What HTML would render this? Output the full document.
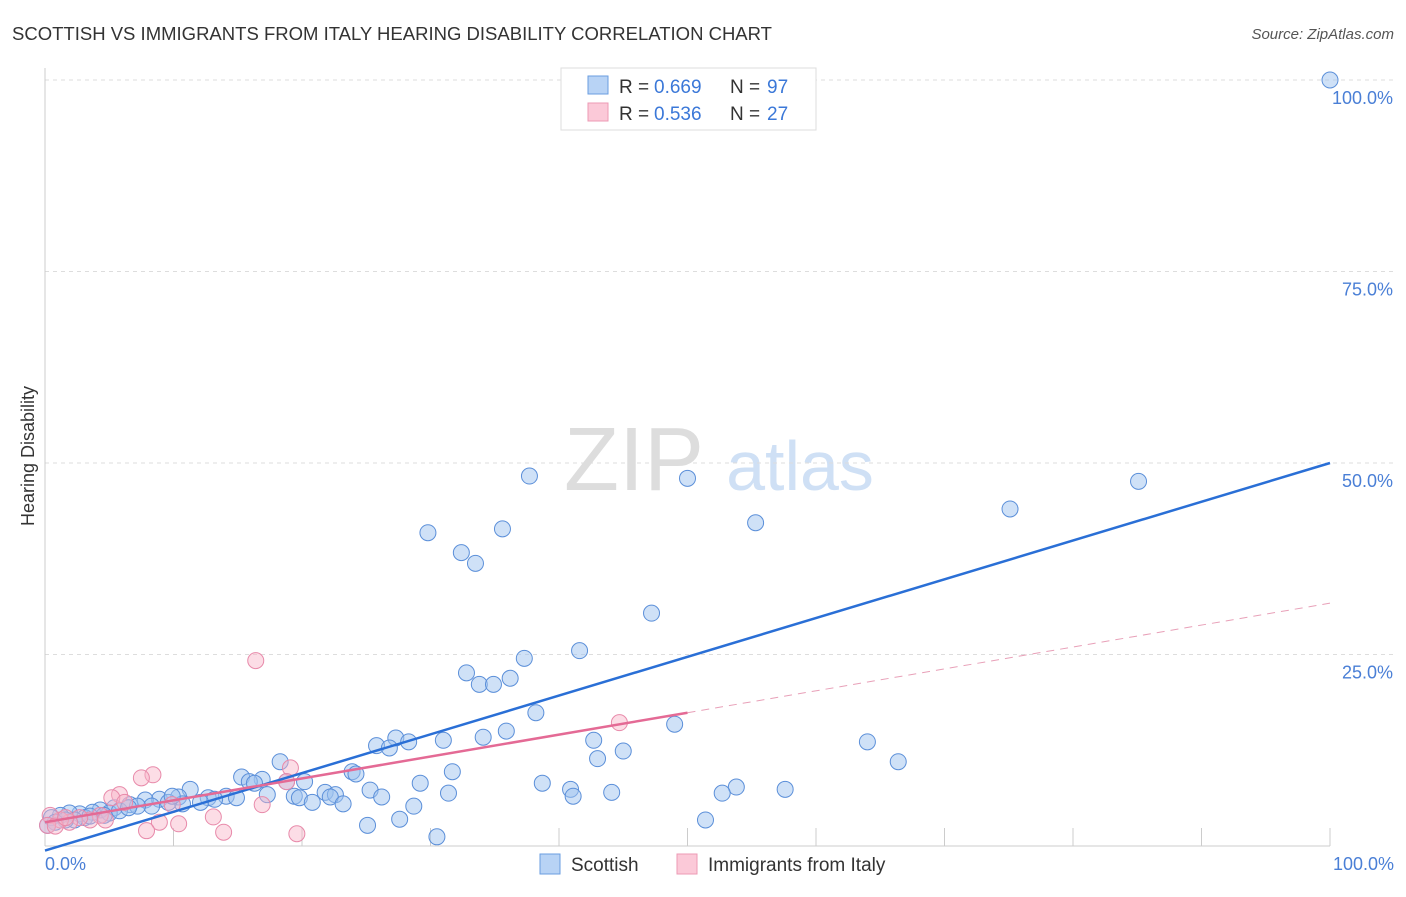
<!DOCTYPE html>
<html><head><meta charset="utf-8">
<style>
body{margin:0;background:#fff;font-family:"Liberation Sans",sans-serif;}
svg text{font-family:"Liberation Sans",sans-serif;}
</style></head>
<body>
<svg id="chart" width="1406" height="892" xmlns="http://www.w3.org/2000/svg">
<text x="12" y="40" font-size="18" fill="#333" textLength="760" lengthAdjust="spacingAndGlyphs">SCOTTISH VS IMMIGRANTS FROM ITALY HEARING DISABILITY CORRELATION CHART</text>
<text x="1394" y="39" font-size="15" fill="#555" text-anchor="end" font-style="italic">Source: ZipAtlas.com</text>
<text x="634" y="490" font-size="90" fill="#ddd" font-family="Liberation Serif" text-anchor="middle">ZIP</text>
<text x="800" y="490" font-size="70" fill="#cfe0f5" text-anchor="middle">atlas</text>
<g id="grid"></g>
<g id="axes"></g>
<g id="pts"></g>
<g id="lines"></g>
<text x="34" y="456" font-size="18" fill="#333" text-anchor="middle" transform="rotate(-90 34 456)">Hearing Disability</text>
<text x="45" y="870" font-size="18" fill="#4a7fd6">0.0%</text>
<text x="1394" y="870" font-size="18" fill="#4a7fd6" text-anchor="end">100.0%</text>
<g>
<rect x="561" y="68" width="255" height="62" fill="#fff" stroke="#ddd"/>
<rect x="588" y="76" width="20" height="18" fill="#b8d3f5" stroke="#6a9ee0"/>
<rect x="588" y="103" width="20" height="18" fill="#fbc9d8" stroke="#ec9ab4"/>
<text x="619" y="93" font-size="19" fill="#333">R = </text>
<text x="654" y="93" font-size="19" fill="#3b78d8">0.669</text>
<text x="730" y="93" font-size="19" fill="#333">N = </text>
<text x="767" y="93" font-size="19" fill="#3b78d8">97</text>
<text x="619" y="120" font-size="19" fill="#333">R = </text>
<text x="654" y="120" font-size="19" fill="#3b78d8">0.536</text>
<text x="730" y="120" font-size="19" fill="#333">N = </text>
<text x="767" y="120" font-size="19" fill="#3b78d8">27</text>
</g>
<g>
<rect x="540" y="854" width="20" height="20" fill="#b8d3f5" stroke="#6a9ee0"/>
<text x="571" y="871" font-size="19" fill="#333">Scottish</text>
<rect x="677" y="854" width="20" height="20" fill="#fbc9d8" stroke="#ec9ab4"/>
<text x="708" y="871" font-size="19" fill="#333">Immigrants from Italy</text>
</g>
</svg>
<script>
const yTicks=[25,50,75,100];
const yTickLabels=["25.0%","50.0%","75.0%","100.0%"];
const xTicks=[10,20,30,40,50,60,70,80,90,100];
const scotX=[100,37.7,50.0,85.1,75.1,55.3,29.8,35.6,32.4,33.5,47.2,41.6,37.3,32.8,36.2,33.8,34.9,38.2,49.0,35.9,34.1,31.0,27.3,28.3,25.8,26.8,42.7,64.0,45.0,43.0,66.4,18.3,31.7,23.9,24.2,15.3,16.9,15.9,16.3,29.2,38.7,20.2,18.8,11.3,53.8,57.6,40.9,25.3,44.1,52.7,31.4,21.8,22.6,17.3,14.1,19.4,19.8,26.2,41.1,22.2,14.9,12.7,13.2,10.4,8.9,7.8,20.8,23.2,12.1,10.7,9.6,6.6,28.7,8.3,7.2,5.4,4.3,3.7,2.7,1.9,1.2,0.5,27.6,51.4,25.1,30.5,5.0,3.1,2.3,1.6,0.8,0.2,5.8,4.6,3.5,6.5,9.9];
const scotY=[100,48.3,48.0,47.6,44.0,42.2,40.9,41.4,38.3,36.9,30.4,25.5,24.5,22.6,21.9,21.1,21.1,17.4,15.9,15.0,14.2,13.8,14.1,13.6,13.1,12.8,13.8,13.6,12.4,11.4,11.0,11.0,9.7,9.7,9.4,9.0,8.7,8.4,8.2,8.2,8.2,8.4,8.4,7.4,7.7,7.4,7.4,7.3,7.0,6.9,6.9,7.0,6.7,6.7,6.5,6.5,6.3,6.4,6.5,6.4,6.3,6.3,6.1,6.4,6.1,6.0,5.7,5.5,5.7,5.5,5.7,5.4,5.2,5.2,5.2,5.0,4.7,4.4,4.2,4.3,4.0,3.7,3.5,3.4,2.7,1.2,4.3,3.7,3.4,3.4,3.1,2.7,4.6,4.0,3.9,5.0,6.5];
const italX=[16.4,44.7,19.1,8.4,7.5,18.8,5.8,5.2,6.2,16.9,9.9,13.1,4.3,3.5,2.7,1.9,1.2,0.4,0.2,8.9,10.4,7.9,13.9,19.6,0.8,4.7,1.6];
const italY=[24.2,16.1,10.2,9.3,8.9,8.4,6.7,6.3,5.7,5.4,5.4,3.8,4.0,3.4,3.7,3.1,3.4,4.0,2.7,3.1,2.9,2.0,1.8,1.6,2.6,3.4,3.7];
const scotTrend=[-0.6,50.0];
const italTrend=[3.1,31.7];
const NS="http://www.w3.org/2000/svg";
const X=v=>45+v*12.85, Y=v=>846-v*7.66;
function mk(t,a,p){const e=document.createElementNS(NS,t);for(const k in a)e.setAttribute(k,a[k]);p.appendChild(e);return e;}
const grid=document.getElementById('grid'),axes=document.getElementById('axes'),pts=document.getElementById('pts'),lines=document.getElementById('lines');
yTicks.forEach((t,i)=>{
 const l=mk('line',{x1:45,x2:1394,y1:Y(t),y2:Y(t),stroke:'#ddd','stroke-dasharray':'4,4'},grid);
 
 
 const tx=mk('text',{x:1393,y:Y(t)+24,'font-size':18,fill:'#4a7fd6','text-anchor':'end'},axes);
 tx.textContent=yTickLabels[i];
 
 
});
const ax=mk('line',{x1:45,x2:45,y1:68,y2:846,stroke:'#ccc'},axes);


const bx=mk('line',{x1:45,x2:1330,y1:846,y2:846,stroke:'#ccc'},axes);


xTicks.forEach(t=>{
 const l=mk('line',{x1:X(t),x2:X(t),y1:828,y2:846,stroke:'#ccc'},axes);
 
 
});
scotX.forEach((v,i)=>{
 const c=mk('circle',{cx:X(v),cy:Y(scotY[i]),r:8,fill:'rgba(160,196,240,0.5)',stroke:'#5b8fd9','stroke-width':1},pts);
 
 
});
italX.forEach((v,i)=>{
 const c=mk('circle',{cx:X(v),cy:Y(italY[i]),r:8,fill:'rgba(248,180,200,0.45)',stroke:'#e88aaa','stroke-width':1},pts);
 
 
});
const sl=mk('line',{x1:X(0),y1:Y(scotTrend[0]),x2:X(100),y2:Y(scotTrend[1]),stroke:'#2a6fd6','stroke-width':2.5},lines);


const iy=x=>italTrend[0]+(italTrend[1]-italTrend[0])*x/100;
const il=mk('line',{x1:X(0),y1:Y(iy(0)),x2:X(50),y2:Y(iy(50)),stroke:'#e46a95','stroke-width':2.5},lines);


const id=mk('line',{x1:X(50),y1:Y(iy(50)),x2:X(100),y2:Y(iy(100)),stroke:'#e8a0b8','stroke-width':1,'stroke-dasharray':'8,6'},lines);


</script>
</body></html>
